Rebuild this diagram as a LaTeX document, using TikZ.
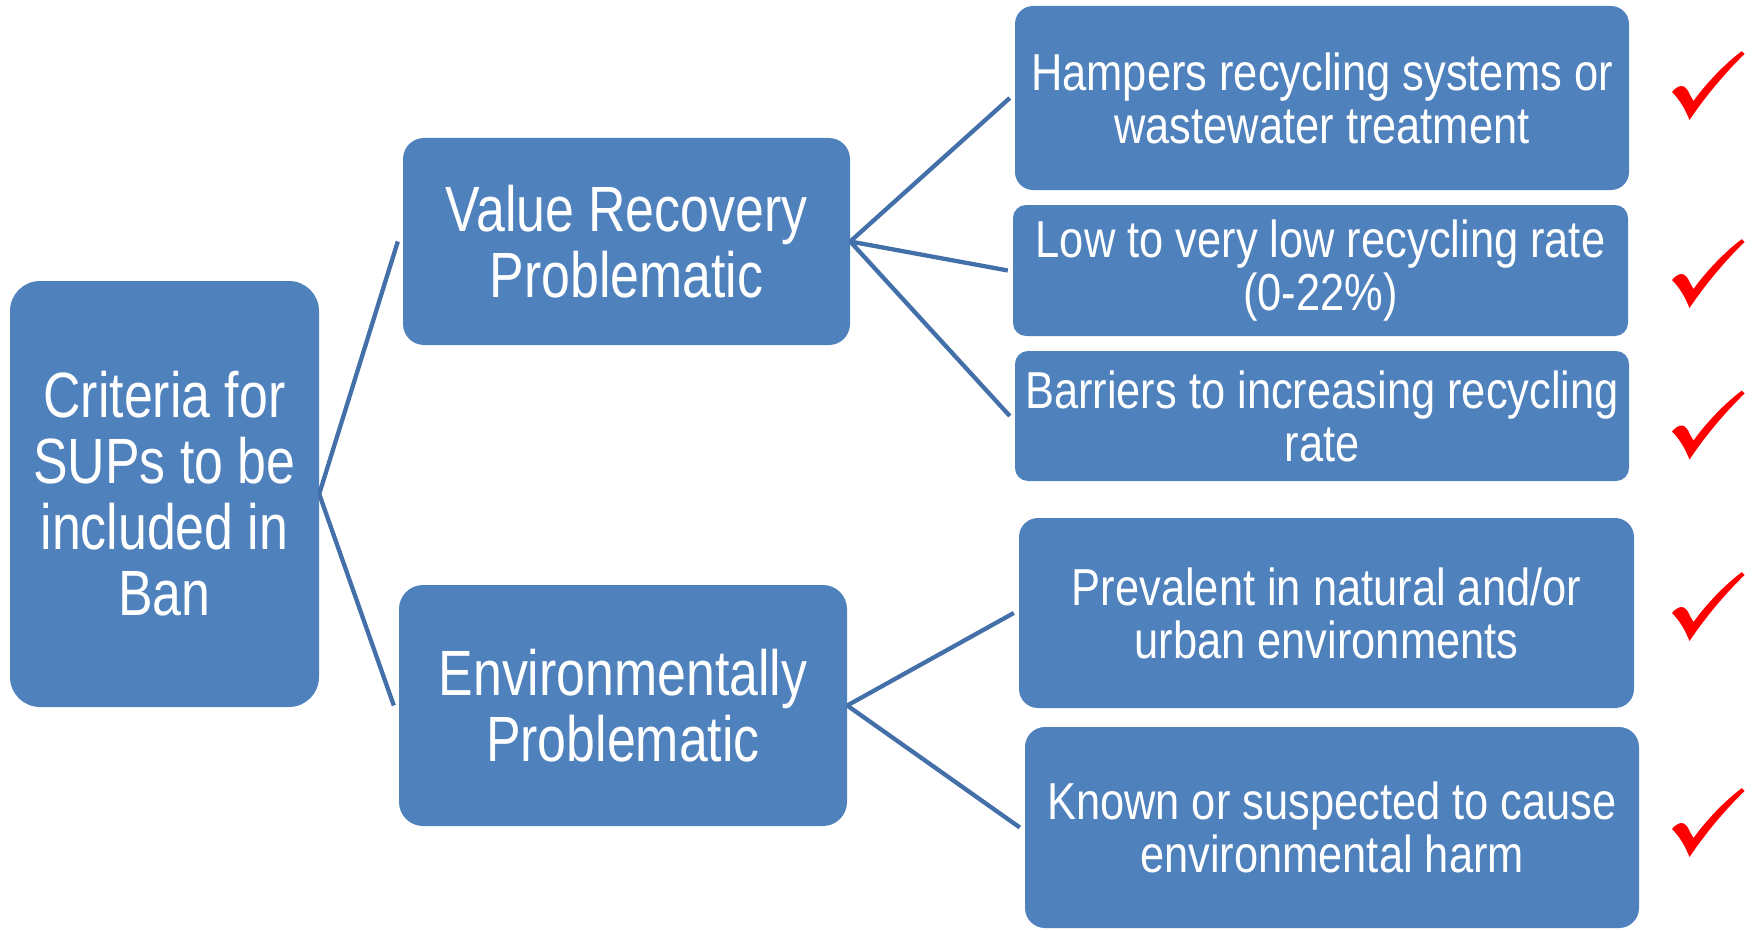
\documentclass[tikz,border=0pt]{standalone}
\usepackage{fontspec}
\setmainfont{Liberation Sans}[FakeStretch=0.81]
\newfontfamily\narrowf{Liberation Sans}[FakeStretch=0.835]
\definecolor{boxblue}{HTML}{4F81BD}
\definecolor{linkblue}{HTML}{4470AA}
\definecolor{chkred}{HTML}{FF0000}
\begin{document}
\begin{tikzpicture}[x=1pt,y=-1pt,
  box/.style={fill=boxblue, text=white, align=center, inner sep=0pt},
  big/.style={font=\fontsize{64}{66}\selectfont},
  small/.style={font=\narrowf\fontsize{52}{53}\selectfont},
  link/.style={draw=linkblue, line width=4.3pt},
  chk/.pic={\fill[chkred] (12,52) .. controls (15.5,48) and (18.5,46) .. (22,46)
     .. controls (25.5,46.5) and (28,50) .. (30,55) -- (33.5,61)
     .. controls (48,41) and (66,23) .. (81.7,11.2) -- (84.5,14)
     .. controls (61,37) and (43,60) .. (29.5,80)
     .. controls (25.5,70) and (20,60) .. cycle;}]
\useasboundingbox (0,0) rectangle (1754,931);

\node[box,big,minimum width=309pt,minimum height=426pt,rounded corners=30pt] (crit) at (164.5,494)
  {Criteria for\\SUPs to be\\included in\\Ban};
\node[box,big,minimum width=447pt,minimum height=207pt,rounded corners=21pt] (vrp) at (626.5,241.5)
  {Value Recovery\\Problematic};
\node[box,big,minimum width=448pt,minimum height=241pt,rounded corners=24pt] (env) at (623,705.5)
  {Environmentally\\Problematic};

\node[box,small,minimum width=614pt,minimum height=184pt,rounded corners=18pt] (ham) at (1322,98)
  {Hampers recycling systems or\\wastewater treatment};
\node[box,small,minimum width=615pt,minimum height=131pt,rounded corners=13pt] (low) at (1320.5,270.5)
  {Low to very low recycling rate\\(0-22\%)};
\node[box,small,minimum width=614pt,minimum height=130pt,rounded corners=13pt] (bar) at (1322,416)
  {Barriers to increasing recycling\\rate};
\node[box,small,minimum width=615pt,minimum height=190pt,rounded corners=19pt] (pre) at (1326.5,613)
  {Prevalent in natural and/or\\urban environments};
\node[box,small,minimum width=614pt,minimum height=201pt,rounded corners=20pt] (kno) at (1332,827.5)
  {Known or suspected to cause\\environmental harm};

\draw[link] (crit.east) -- ([xshift=-5pt]vrp.west);
\draw[link] (crit.east) -- ([xshift=-5pt]env.west);
\draw[link] (vrp.east) -- ([xshift=-5pt]ham.west);
\draw[link] (vrp.east) -- ([xshift=-5pt]low.west);
\draw[link] (vrp.east) -- ([xshift=-5pt]bar.west);
\draw[link] (env.east) -- ([xshift=-5pt]pre.west);
\draw[link] (env.east) -- ([xshift=-5pt]kno.west);

\pic at (1660,40) {chk};
\pic at (1660,228) {chk};
\pic at (1660,379.5) {chk};
\pic at (1660,561) {chk};
\pic at (1660,777) {chk};
\end{tikzpicture}
\end{document}
